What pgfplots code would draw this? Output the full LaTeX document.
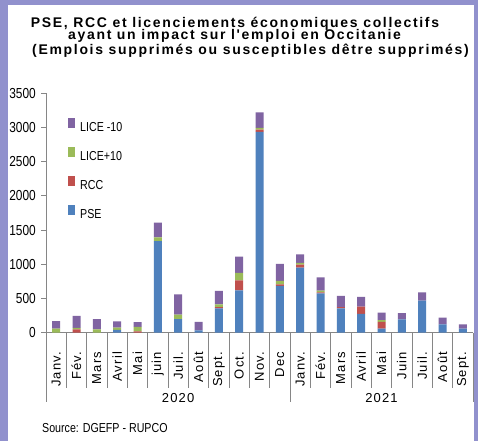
\documentclass[border=0pt]{standalone}
\usepackage{pgfplots}
\pgfplotsset{compat=1.18}
\usepackage{pgfplotstable}
\usepackage{fontspec}
\setmainfont{Liberation Sans}
\newfontfamily\titlefont[LetterSpace=12]{Liberation Sans}
\newfontfamily\narrowfont[FakeStretch=0.82]{Liberation Sans}
\newfontfamily\monthfont[LetterSpace=9]{Liberation Sans}
\definecolor{framecol}{RGB}{145,145,205}
\definecolor{pse}{RGB}{79,129,189}
\definecolor{rcc}{RGB}{192,80,77}
\definecolor{licep}{RGB}{155,187,89}
\definecolor{licem}{RGB}{128,100,162}
\definecolor{axgray}{RGB}{134,134,134}

\pgfplotstableread{
i PSE RCC LP LM
0 0 0 60 110
1 0 50 20 175
2 0 0 50 150
3 40 0 35 90
4 0 20 65 70
5 1340 0 55 215
6 200 0 65 295
7 35 0 0 125
8 355 20 40 195
9 620 146 110 235
10 2935 35 25 225
11 683 25 48 250
12 950 45 25 125
13 575 15 25 195
14 355 20 0 165
15 275 105 0 145
16 60 100 25 110
17 195 0 0 90
18 470 0 0 120
19 120 0 0 100
20 60 0 0 60
}\data

\begin{document}
\begin{tikzpicture}[x=1pt,y=1pt]
\fill[framecol] (0,0) rectangle (478,441);
\fill[white] (8,0) rectangle (474,436);
\useasboundingbox (0,0) rectangle (478,441);
\tikzset{ttl/.style={anchor=base, inner sep=0pt, text height=10pt, text depth=1pt, font=\titlefont\bfseries\fontsize{14}{14}\selectfont}}
\node[ttl] at (235,413.5) {PSE, RCC et licenciements économiques collectifs};
\node[ttl] at (234.5,401) {ayant un impact sur l'emploi en Occitanie};
\node[ttl] at (250.5,386) {(Emplois supprimés ou susceptibles dêtre supprimés)};
\node[anchor=base west, inner sep=0pt, font=\narrowfont\fontsize{13}{13}\selectfont] at (42,8.3) {Source: DGEFP - RUPCO};
\begin{axis}[
  at={(46pt,108.3pt)}, anchor=south west,
  scale only axis, width=427pt, height=239.4pt,
  ybar stacked, bar width=8pt,
  xmin=-0.5, xmax=20.5, ymin=0, ymax=3500,
  clip=false,
  axis lines=left,
  axis line style={draw=axgray, line width=0.8pt, -},
  tick align=outside, major tick length=5pt,
  ytick={0,500,...,3500},
  ytick style={draw=axgray, line width=0.8pt},
  /pgf/number format/assume math mode=true,
  /pgf/number format/1000 sep={},
  yticklabel style={font=\narrowfont\fontsize{14.5}{14.5}\selectfont, inner sep=0pt, xshift=-5pt},
  xtick={0,...,20},
  xticklabels={Janv.,Fév.,Mars,Avril,Mai,juin,Juil.,Août,Sept.,Oct.,Nov.,Dec,Janv.,Fév.,Mars,Avril,Mai,Juin,Juil.,Août,Sept.},
  xtick style={draw=none},
  xticklabel style={rotate=90, anchor=east, inner sep=0pt, font=\monthfont\fontsize{13}{13}\selectfont},
  xticklabel shift=14pt,
  legend image code/.code={\fill[#1] (0pt,-0.8pt) rectangle (7pt,10pt);},
  reverse legend,
  legend cell align=left,
  legend style={draw=none, fill=none, at={(0.0515,0.899)}, anchor=north west,
    font=\narrowfont\fontsize{13}{13}\selectfont, row sep=13.7pt, column sep=5pt,
    inner sep=0pt, nodes={inner sep=0pt}},
]
\addplot[fill=pse, draw=none] table[x=i, y=PSE] {\data};
\addplot[fill=rcc, draw=none] table[x=i, y=RCC] {\data};
\addplot[fill=licep, draw=none] table[x=i, y=LP] {\data};
\addplot[fill=licem, draw=none] table[x=i, y=LM] {\data};
\legend{PSE,RCC,LICE+10,LICE -10}
\pgfplotsinvokeforeach{0.5,1.5,2.5,3.5,4.5,5.5,6.5,7.5,8.5,9.5,10.5,12.5,13.5,14.5,15.5,16.5,17.5,18.5,19.5}{
  \draw[axgray, line width=0.6pt] (axis cs:#1,0) -- ++(0pt,-55.3pt);
}
\pgfplotsinvokeforeach{-0.5,11.5,20.5}{
  \draw[axgray, line width=0.6pt] (axis cs:#1,0) -- ++(0pt,-69pt);
}
\node[anchor=base, font=\monthfont\fontsize{13}{13}\selectfont] at ([yshift=-70pt]axis cs:6,0) {2020};
\node[anchor=base, font=\monthfont\fontsize{13}{13}\selectfont] at ([yshift=-70pt]axis cs:16,0) {2021};
\end{axis}
\end{tikzpicture}
\end{document}
